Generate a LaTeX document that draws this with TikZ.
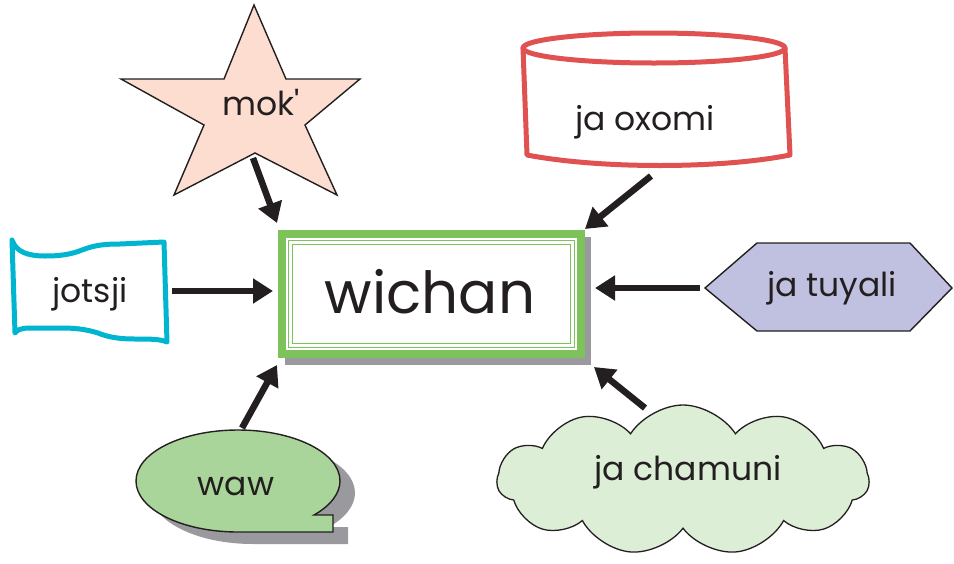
\documentclass[tikz,border=0pt]{standalone}
\usepackage{fontspec}
\newfontfamily\pop{Poppins}
\usetikzlibrary{arrows.meta,shapes.symbols,shapes.geometric}
\definecolor{txt}{HTML}{231F20}
\definecolor{starfill}{HTML}{FCDDCF}
\definecolor{cylred}{HTML}{E05252}
\definecolor{flagcyan}{HTML}{00B5CF}
\definecolor{boxgreen}{HTML}{7DC25B}
\definecolor{wawfill}{HTML}{A9D59A}
\definecolor{cloudfill}{HTML}{DDEED7}
\definecolor{hexfill}{HTML}{C0C0E0}
\definecolor{shadowgray}{HTML}{9A9A9E}
\begin{document}
\begin{tikzpicture}[x=1pt,y=-1pt,
  lbl/.style={font=\pop\fontsize{33}{33}\selectfont, text=txt, anchor=base, inner sep=0pt},
  biglbl/.style={font=\pop\fontsize{58}{58}\selectfont, text=txt, anchor=base, inner sep=0pt},
  arr/.style={line width=6.5pt, draw=txt, -{Triangle[length=20pt,width=24pt]}},
  outl/.style={draw=txt, line width=1.4pt, line join=miter},
  cyl/.style={draw=cylred, line width=5pt, line join=round, line cap=round}]
\useasboundingbox (0,0) rectangle (954,563);

% star
\filldraw[fill=starfill, outl] (254,5) -- (286,79) -- (360,79) -- (305,125) -- (337,195)
  -- (255,153) -- (174,195) -- (204,125) -- (121,79) -- (224,79) -- cycle;
\node[lbl] (mok) at (261,115) {mok'};

% cylinder
\fill[white] (523,48) -- (527,155) .. controls (600,169) and (720,169) .. (790,155) -- (785,48) -- cycle;
\draw[cyl] (523,48) -- (527,155) .. controls (600,169) and (720,169) .. (790,155) -- (785,48);
\draw[cyl] (654,48) ellipse [x radius=131pt, y radius=15pt];
\node[lbl] (oxomi) at (645,130) {ja oxomi};

% flag
\draw[draw=flagcyan, line width=5pt, line join=round, fill=white]
  (12,240) .. controls (16,252) and (28,256) .. (45,256)
  .. controls (62,256) and (72,254) .. (82,250)
  .. controls (95,245) and (105,244) .. (120,244) -- (164,242)
  -- (167,342)
  .. controls (160,339) and (150,339) .. (135,339)
  .. controls (118,339) and (108,337) .. (98,333)
  .. controls (85,329) and (75,328) .. (60,328) -- (30,328)
  .. controls (21,328) and (17,330) .. (15,333) -- cycle;
\node[lbl] (jotsji) at (90,302) {jotsji};

% central box
\fill[shadowgray] (285,237) rectangle (591,365);
\fill[white] (278,230) rectangle (585,358);
\draw[boxgreen, line width=8pt] (282,234) rectangle (581,354);
\draw[boxgreen, line width=1.5pt] (288.5,240.5) rectangle (574.5,347.5);
\draw[boxgreen, line width=1.5pt] (292.5,244.5) rectangle (570.5,343.5);
\node[biglbl] (wichan) at (430,313) {wichan};

% hexagon
\filldraw[fill=hexfill, outl] (705,288) -- (757,243) -- (910,243) -- (952,288)
  -- (910,331) -- (757,331) -- cycle;
\node[lbl] (tuyali) at (832,296) {ja tuyali};

% speech bubble
\def\wawpath{(314,515) .. controls (330.5,505.7) and (340,493.4) .. (340,481)
  .. controls (340,452.8) and (294.3,430) .. (238,430)
  .. controls (181.7,430) and (136,452.8) .. (136,481)
  .. controls (136,509.2) and (181.7,532) .. (238,532)
  -- (333,532) -- (333,515) -- cycle}
\fill[shadowgray, shift={(15,12)}] \wawpath;
\filldraw[fill=wawfill, outl] \wawpath;
\node[lbl] (waw) at (236,495) {waw};

% cloud
\node[cloud, cloud puffs=11, cloud puff arc=115, aspect=2.5, draw=txt, fill=cloudfill,
  line width=1.3pt, minimum width=372pt, minimum height=150pt, inner sep=0pt] (cloud) at (683,480) {};
\node[lbl] (chamuni) at (688,480) {ja chamuni};

% arrow ends
\coordinate (s1) at (253,158); \coordinate (e1) at (277,223);
\coordinate (s2) at (651,176); \coordinate (e2) at (585,229);
\coordinate (s3) at (172,291); \coordinate (e3) at (273,291);
\coordinate (s4) at (700,288); \coordinate (e4) at (595,288);
\coordinate (s5) at (645,408); \coordinate (e5) at (594,367);
\coordinate (s6) at (242,428); \coordinate (e6) at (277,365);
\draw[arr] (s1) -- (e1);
\draw[arr] (s2) -- (e2);
\draw[arr] (s3) -- (e3);
\draw[arr] (s4) -- (e4);
\draw[arr] (s5) -- (e5);
\draw[arr] (s6) -- (e6);
\end{tikzpicture}
\end{document}
